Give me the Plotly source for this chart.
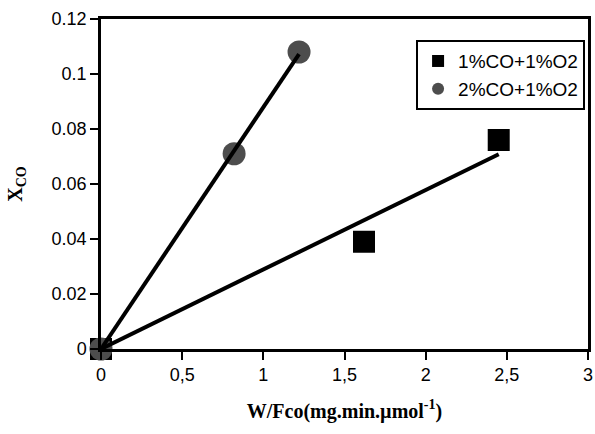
import plotly.graph_objects as go

# Data
x_1co = [0, 1.62, 2.45]
y_1co = [0, 0.039, 0.076]
x_2co = [0, 0.82, 1.22]
y_2co = [0, 0.071, 0.108]
name_1co = "1%CO+1%O2"
name_2co = "2%CO+1%O2"
x_tickvals = [0, 0.5, 1, 1.5, 2, 2.5, 3]
x_ticktext = ["0", "0,5", "1", "1,5", "2", "2,5", "3"]
y_tickvals = [0, 0.02, 0.04, 0.06, 0.08, 0.1, 0.12]
y_ticktext = ["0", "0.02", "0.04", "0.06", "0.08", "0.1", "0.12"]


def fit_origin(xs, ys):
    sxy = sum(a * b for a, b in zip(xs, ys))
    sxx = sum(a * a for a in xs)
    return sxy / sxx


k1 = fit_origin(x_1co, y_1co)
k2 = fit_origin(x_2co, y_2co)

fig = go.Figure()
fig.add_trace(go.Scatter(x=x_1co, y=y_1co, mode="markers", name=name_1co,
                         marker=dict(symbol="square", size=22, color="#000000",
                                     line=dict(width=0)), cliponaxis=False))
fig.add_trace(go.Scatter(x=x_2co, y=y_2co, mode="markers", name=name_2co,
                         marker=dict(symbol="circle", size=23, color="#4d4d4d",
                                     line=dict(width=0)), cliponaxis=False))
fig.add_trace(go.Scatter(x=[0, max(x_1co)], y=[0, k1 * max(x_1co)], mode="lines",
                         line=dict(color="black", width=4), showlegend=False,
                         cliponaxis=False))
fig.add_trace(go.Scatter(x=[0, max(x_2co)], y=[0, k2 * max(x_2co)], mode="lines",
                         line=dict(color="black", width=4), showlegend=False,
                         cliponaxis=False))

fig.update_layout(
    width=595, height=434,
    margin=dict(l=101, r=7, t=19, b=85, autoexpand=False),
    paper_bgcolor="white", plot_bgcolor="white",
    font=dict(family="Arial, Liberation Sans", size=18, color="black"),
    legend=dict(x=0.994, y=0.936, xanchor="right", yanchor="top",
                bordercolor="black", borderwidth=2, bgcolor="white",
                font=dict(family="Arial, Liberation Sans", size=19),
                itemsizing="constant", itemwidth=30, tracegroupgap=0),
)
fig.update_xaxes(range=[0, 3], tickvals=x_tickvals, ticktext=x_ticktext,
                 ticks="outside", ticklen=8, tickwidth=2, tickcolor="black",
                 showline=True, linewidth=2.5, linecolor="black", mirror=True,
                 showgrid=False, zeroline=False,
                 tickfont=dict(family="Arial, Liberation Sans", size=18),
                 title=dict(text="<b>W/Fco(mg.min.µmol<sup>-1</sup>)</b>",
                            font=dict(family="Times New Roman, Liberation Serif", size=20),
                            standoff=20))
fig.update_yaxes(range=[0, 0.12], tickvals=y_tickvals, ticktext=y_ticktext,
                 ticks="outside", ticklen=8, tickwidth=2, tickcolor="black",
                 showline=True, linewidth=2.5, linecolor="black", mirror=True,
                 showgrid=False, zeroline=False,
                 tickfont=dict(family="Arial, Liberation Sans", size=18),
                 title=dict(text="<b>X<sub>CO</sub></b>",
                            font=dict(family="Times New Roman, Liberation Serif", size=20),
                            standoff=24))

fig.write_html("out.html")
